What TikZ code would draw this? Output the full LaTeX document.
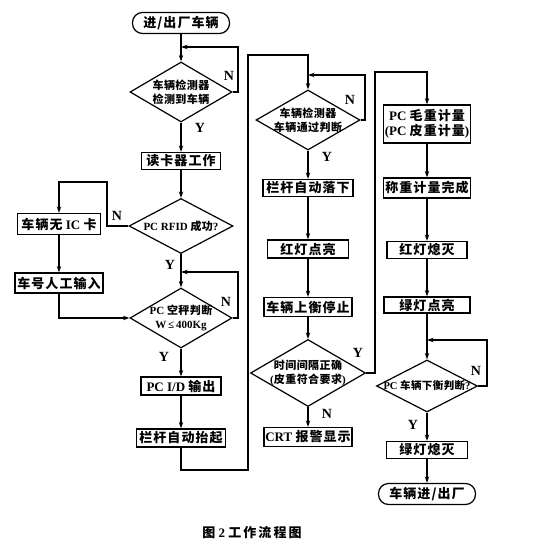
\documentclass[tikz,border=0pt]{standalone}
\usepackage{fontspec}
\setmainfont{Liberation Serif}
\newfontfamily\cjk{Noto Sans CJK SC}[LetterSpace=8]
\newfontfamily\cjkd{Noto Sans CJK SC}[LetterSpace=4]
\newfontfamily\cjkc{Noto Sans CJK SC}[LetterSpace=16]
\newcommand\zh[1]{{\cjk #1}}
\newcommand\zd[1]{{\cjkd #1}}
\usetikzlibrary{shapes.geometric,arrows.meta}
\tikzset{
  arr/.style={-{Stealth[length=6.5pt,width=4.5pt]}},
  box/.style={draw, rectangle, inner sep=0pt, font=\bfseries\fontsize{13}{15}\selectfont, align=center},
  term/.style={draw, rectangle, rounded corners=10pt, inner sep=0pt, minimum width=97pt, minimum height=21pt, font=\bfseries\fontsize{13}{15}\selectfont},
  dia/.style={draw, diamond, inner sep=0pt},
  dtext/.style={inner sep=0pt, font=\bfseries\fontsize{11}{14}\selectfont, align=center},
  yn/.style={inner sep=0pt, font=\bfseries\fontsize{14}{14}\selectfont}
}
\begin{document}
\begin{tikzpicture}[x=1pt,y=-1pt,line width=1.2pt]
\fill[white] (0,0) rectangle (538,556);
\useasboundingbox (0,0) rectangle (538,556);

% column A
\node[term] (start) at (181,23) {\zh{进/出厂车辆}};
\node[dia, minimum width=102pt, minimum height=60pt] (d1) at (181,92) {};
\node[dtext] (t1) at (d1) {\zd{车辆检测器}\\\zd{检测到车辆}};
\node[box, minimum width=79pt, minimum height=17pt] (b1) at (181,161) {\zh{读卡器工作}};
\node[dia, minimum width=104pt, minimum height=55pt] (d2) at (181,226) {};
\node[dtext] (t2) at (d2) {PC RFID \zd{成功}?};
\node[box, minimum width=83pt, minimum height=21pt] (bL1) at (59,224) {\zh{车辆无} IC \zh{卡}};
\node[box, minimum width=88pt, minimum height=20pt] (bL2) at (59,283) {\zh{车号人工输入}};
\node[dia, minimum width=102pt, minimum height=60pt] (d3) at (181,318) {};
\node[dtext] (t3) at (d3) {PC \zd{空秤判断}\\W\,≤\,400Kg};
\node[box, minimum width=80pt, minimum height=18pt] (b2) at (181,386) {PC I/D \zh{输出}};
\node[box, minimum width=89pt, minimum height=18pt] (b3) at (181,438) {\zh{栏杆自动抬起}};

% column B
\node[dia, minimum width=104pt, minimum height=60pt] (d4) at (308,120) {};
\node[dtext] (t4) at (d4) {\zd{车辆检测器}\\\zd{车辆通过判断}};
\node[box, minimum width=90pt, minimum height=17pt] (b4) at (308,188) {\zh{栏杆自动落下}};
\node[box, minimum width=81pt, minimum height=18pt] (b5) at (308,249) {\zh{红灯点亮}};
\node[box, minimum width=88pt, minimum height=19pt] (b6) at (308,307) {\zh{车辆上衡停止}};
\node[dia, minimum width=115pt, minimum height=67pt] (d5) at (308,373) {};
\node[dtext] (t5) at (d5) {\zd{时间间隔正确}\\(\zd{皮重符合要求})};
\node[box, minimum width=88pt, minimum height=19pt] (b7) at (308,437) {CRT \zh{报警显示}};

% column C
\node[box, minimum width=87pt, minimum height=38pt] (b8) at (427,124) {PC \zh{毛重计量}\\(PC \zh{皮重计量})};
\node[box, minimum width=87pt, minimum height=20pt] (b9) at (427,188) {\zh{称重计量完成}};
\node[box, minimum width=80pt, minimum height=17pt] (b10) at (427,250) {\zh{红灯熄灭}};
\node[box, minimum width=86pt, minimum height=16pt] (b11) at (427,305) {\zh{绿灯点亮}};
\node[dia, minimum width=101pt, minimum height=52pt] (d6) at (427,386) {};
\node[dtext, font=\bfseries\fontsize{10.5}{14}\selectfont] (t6) at (d6) {PC \zd{车辆下衡判断}?};
\node[box, minimum width=81pt, minimum height=17pt] (b12) at (427,450) {\zh{绿灯熄灭}};
\node[term] (end) at (427,494) {\zh{车辆进/出厂}};

% caption
\node[inner sep=0pt, font=\bfseries\fontsize{13}{15}\selectfont] (cap) at (252,533) {{\cjkc 图}\ 2\ {\cjkc 工作流程图}};

% merge points
\coordinate (m1) at (181,47);
\coordinate (m3) at (181,272);
\coordinate (m4) at (308,75);
\coordinate (m6) at (427,340);

% connectors column A
\draw[arr] (start.south) -- (d1.north);
\draw[arr] (d1.east) -| (238,47) -- (m1);
\draw[arr] (d1.south) -- (b1.north);
\draw[arr] (b1.south) -- (d2.north);
\draw[arr] (d2.west) -| (107,182) -| (bL1.north);
\draw[arr] (bL1.south) -- (bL2.north);
\draw[arr] (bL2.south) |- (d3.west);
\draw[arr] (d2.south) -- (d3.north);
\draw[arr] (d3.east) -| (238,272) -- (m3);
\draw[arr] (d3.south) -- (b2.north);
\draw[arr] (b2.south) -- (b3.north);
\draw[arr] (b3.south) -- (181,470) -| (248,55) -| (d4.north);

% column B
\draw[arr] (d4.east) -| (365,75) -- (m4);
\draw[arr] (d4.south) -- (b4.north);
\draw[arr] (b4.south) -- (b5.north);
\draw[arr] (b5.south) -- (b6.north);
\draw[arr] (b6.south) -- (d5.north);
\draw[arr] (d5.south) -- (b7.north);
\draw[arr] (d5.east) -| (375,72) -| (b8.north);

% column C
\draw[arr] (b8.south) -- (b9.north);
\draw[arr] (b9.south) -- (b10.north);
\draw[arr] (b10.south) -- (b11.north);
\draw[arr] (b11.south) -- (d6.north);
\draw[arr] (d6.east) -| (487,340) -- (m6);
\draw[arr] (d6.south) -- (b12.north);
\draw[arr] (b12.south) -- (end.north);

% labels
\node[yn] (n1) at (229,76) {N};
\node[yn] (y1) at (200,128) {Y};
\node[yn] (n2) at (117,216) {N};
\node[yn] (y2) at (170,265) {Y};
\node[yn] (n3) at (226,302) {N};
\node[yn] (y3) at (164,357) {Y};
\node[yn] (n4) at (350,100) {N};
\node[yn] (y4) at (327,157) {Y};
\node[yn] (y5) at (358,353) {Y};
\node[yn] (n5) at (327,414) {N};
\node[yn] (n6) at (476,371) {N};
\node[yn] (y6) at (413,425) {Y};
\end{tikzpicture}
\end{document}
